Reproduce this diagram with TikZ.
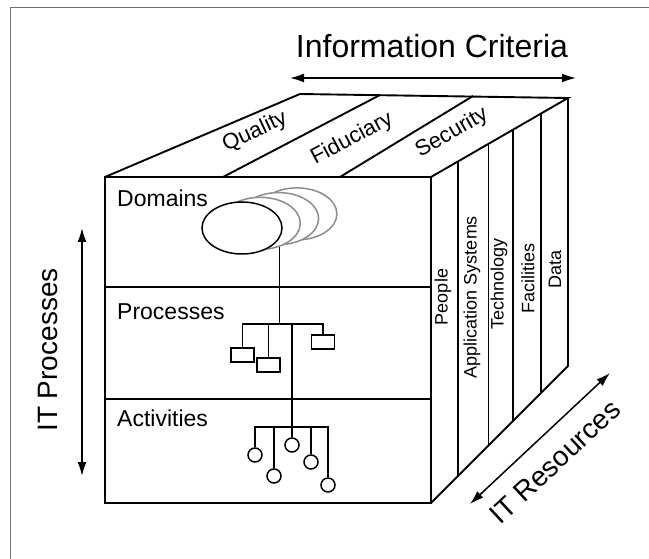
\documentclass[tikz,border=0pt]{standalone}
\usepackage{fontspec}
\setmainfont{Liberation Sans}
\usetikzlibrary{arrows.meta,shapes.geometric,calc}

\begin{document}
\begin{tikzpicture}[
  x=1pt, y=-1pt,
  cube/.style={line width=1.9pt, line join=miter},
  branch/.style={line width=1.6pt},
  dom/.style={ellipse, draw, line width=1.5pt, fill=white, minimum width=80pt, minimum height=52pt, inner sep=0pt},
  domback/.style={dom, draw=black!45},
  proc/.style={rectangle, draw, line width=1.5pt, fill=white, minimum width=23pt, minimum height=14pt, inner sep=0pt},
  act/.style={circle, draw, line width=1.5pt, fill=white, minimum size=14pt, inner sep=0pt},
  level/.style={anchor=west, inner sep=0pt, font=\fontsize{23}{23}\selectfont},
  crit/.style={inner sep=0pt, font=\fontsize{22}{22}\selectfont},
  res/.style={inner sep=0pt, rotate=90, font=\fontsize{18}{18}\selectfont},
  axis/.style={inner sep=0pt, font=\fontsize{28}{28}\selectfont},
  twoway/.style={line width=1.5pt, {Latex[length=14pt,width=9pt]}-{Latex[length=14pt,width=9pt]}}
]
  \useasboundingbox (0,0) rectangle (649,559);
  \draw[black!55, line width=1pt] (10,559) -- (10,8) -- (649,8);

  % the cube
  \coordinate (FTL) at (105,177);
  \coordinate (FTR) at (431,177);
  \coordinate (FBR) at (431,503);
  \coordinate (BTL) at (300,94);
  \coordinate (BTR) at (568,98);
  \coordinate (BBR) at (568,366);
  \draw[cube] (FTL) rectangle (FBR);
  \draw[cube] (FTL) -- (BTL) -- (BTR) -- (FTR);
  \draw[cube] (BTR) -- (BBR) -- (FBR);
  \draw[cube] (105,287) -- (431,287);
  \draw[cube] (105,399) -- (431,399);
  \draw[cube] (223,177) -- (380,95);
  \draw[cube] (340,177) -- (473,96);
  \foreach \t in {0.2,0.42,0.6,0.8}
    \draw[cube] ($(FTR)!\t!(BTR)$) -- ($(FBR)!\t!(BBR)$);

  % domains
  \foreach \i in {3,2,1}
    \node[domback] (d\i) at ({242+18.3*\i},{228-4.7*\i}) {};
  \node[dom] (d0) at (242,228) {};

  % processes
  \node[proc] (p1) at (242.5,355) {};
  \node[proc] (p2) at (268.5,365) {};
  \node[proc] (p3) at (323,342) {};
  \coordinate (pbar) at (292,324);
  \draw[branch] (d1.-51) -- (d1.-51 |- pbar);
  \draw[branch] (p1.north) |- (p3.north |- pbar) -- (p3.north);
  \draw[branch] (p2.north) -- (p2.north |- pbar);

  % activities
  \node[act] (a1) at (255,455) {};
  \node[act] (a2) at (274,476) {};
  \node[act] (a3) at (292,445) {};
  \node[act] (a4) at (311,462) {};
  \node[act] (a5) at (328,485) {};
  \coordinate (abar) at (292,427);
  \draw[branch] (pbar) -- (abar);
  \draw[branch] (a1.north) |- (a5.north |- abar) -- (a5.north);
  \foreach \a in {a2,a3,a4}
    \draw[branch] (\a.north) -- (\a.north |- abar);

  \node[level] (ldom) at (117,198) {Domains};
  \node[level] (lproc) at (117,312) {Processes};
  \node[level] (lact) at (117,418) {Activities};

  \node[crit, rotate=25] (qual) at (255,132) {Quality};
  \node[crit, rotate=28] (fid) at (352,139) {Fiduciary};
  \node[crit, rotate=30] (sec) at (452,133) {Security};

  \node[res] (ppl) at (443,297) {People};
  \node[res] (app) at (472,297) {Application Systems};
  \node[res] (tech) at (499,284) {Technology};
  \node[res] (fac) at (528,278) {Facilities};
  \node[res] (data) at (555,269) {Data};

  % the three axes
  \node[axis, font=\fontsize{32}{32}\selectfont] (infocrit) at (432,46) {Information Criteria};
  \coordinate (icL) at (290,78);
  \coordinate (icR) at (576,78);
  \draw[twoway] (icL) -- (icR);
  \node[axis, rotate=90] (itproc) at (48,350) {IT Processes};
  \coordinate (ipT) at (82,228);
  \coordinate (ipB) at (82,476);
  \draw[twoway] (ipT) -- (ipB);
  \node[axis, rotate=43] (itres) at (555,462) {IT Resources};
  \coordinate (irL) at (470,504);
  \coordinate (irR) at (610,373);
  \draw[twoway] (irL) -- (irR);
\end{tikzpicture}
\end{document}
